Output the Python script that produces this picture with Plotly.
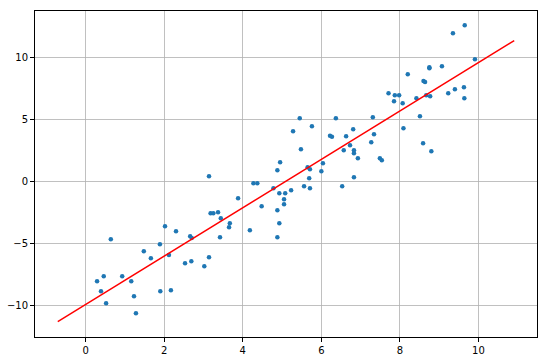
import plotly.graph_objects as go

x_vals = [0.29, 0.39, 0.46, 0.52, 0.64, 0.93, 1.16, 1.23, 1.28, 1.48,
          1.66, 1.89, 1.90, 2.02, 2.12, 2.17, 2.30, 2.53, 2.66, 2.69,
          2.70, 3.02, 3.14, 3.14, 3.18, 3.25, 3.37, 3.42, 3.44, 3.65,
          3.67, 3.88, 4.18, 4.27, 4.37, 4.48, 4.78, 4.88, 4.88, 4.88,
          4.93, 4.93, 4.95, 5.05, 5.05, 5.08, 5.23, 5.28, 5.45, 5.48,
          5.56, 5.65, 5.69, 5.71, 5.71, 5.76, 6.00, 6.04, 6.22, 6.27,
          6.37, 6.53, 6.57, 6.63, 6.73, 6.81, 6.83, 6.83, 6.83, 6.93,
          7.27, 7.31, 7.34, 7.49, 7.54, 7.71, 7.85, 7.87, 7.98, 8.07,
          8.09, 8.20, 8.42, 8.51, 8.59, 8.60, 8.64, 8.67, 8.75, 8.75,
          8.77, 8.80, 9.07, 9.23, 9.35, 9.40, 9.63, 9.64, 9.65, 9.91]
y_vals = [-8.06, -8.87, -7.66, -9.84, -4.68, -7.66, -8.06, -9.27, -10.65, -5.65,
          -6.21, -5.08, -8.87, -3.63, -5.94, -8.79, -4.03, -6.61, -4.44, -6.45,
          -4.57, -6.85, 0.40, -6.13, -2.58, -2.58, -2.50, -4.52, -2.98, -3.71,
          -3.39, -1.37, -3.95, -0.16, -0.16, -2.02, -0.56, 0.89, -2.34, -4.52,
          -0.97, -3.39, 1.53, -1.45, -1.85, -0.97, -0.73, 4.03, 5.08, 2.58,
          -0.40, 1.13, 0.24, 0.97, -0.56, 4.44, 0.81, 1.45, 3.66, 3.58,
          5.08, -0.40, 2.50, 3.63, 2.90, 4.19, 2.50, 2.26, 0.32, 1.85,
          3.15, 5.16, 3.79, 1.85, 1.69, 7.10, 6.45, 6.94, 6.94, 6.29,
          4.27, 8.63, 6.69, 5.24, 3.06, 8.09, 8.01, 6.94, 9.19, 9.11,
          6.85, 2.42, 9.27, 7.10, 11.94, 7.42, 7.58, 6.69, 12.58, 9.84]

fit_x = [-0.71, 10.91]
fit_y = [-11.32, 11.34]

x_ticks = [0, 2, 4, 6, 8, 10]
y_ticks = [-10, -5, 0, 5, 10]

fig = go.Figure()
fig.add_trace(go.Scatter(
    x=x_vals, y=y_vals, mode="markers",
    marker=dict(color="#1f77b4", size=4.5, line=dict(width=0)),
    showlegend=False, hoverinfo="skip"))
fig.add_trace(go.Scatter(
    x=fit_x, y=fit_y, mode="lines",
    line=dict(color="#ff0000", width=1.5),
    showlegend=False, hoverinfo="skip"))

axis_common = dict(
    showgrid=True, gridcolor="#b0b0b0", gridwidth=0.8,
    zeroline=False, showline=True, linecolor="black", linewidth=1,
    mirror=True, ticks="outside", ticklen=4, tickwidth=1, tickcolor="black",
    tickfont=dict(family="DejaVu Sans", size=10, color="black"),
    automargin=False,
)
fig.update_xaxes(range=[-1.29, 11.49], tickvals=x_ticks, **axis_common)
fig.update_yaxes(range=[-12.56, 13.73], tickvals=y_ticks, **axis_common)

fig.update_layout(
    width=548, height=361,
    margin=dict(l=35, r=11, t=11, b=24, autoexpand=False),
    paper_bgcolor="white", plot_bgcolor="white",
    showlegend=False,
)
fig.write_html(
    "out.html",
    config={"displayModeBar": False, "staticPlot": True},
    post_script="document.body.style.margin='0';document.body.style.overflow='hidden';",
)
